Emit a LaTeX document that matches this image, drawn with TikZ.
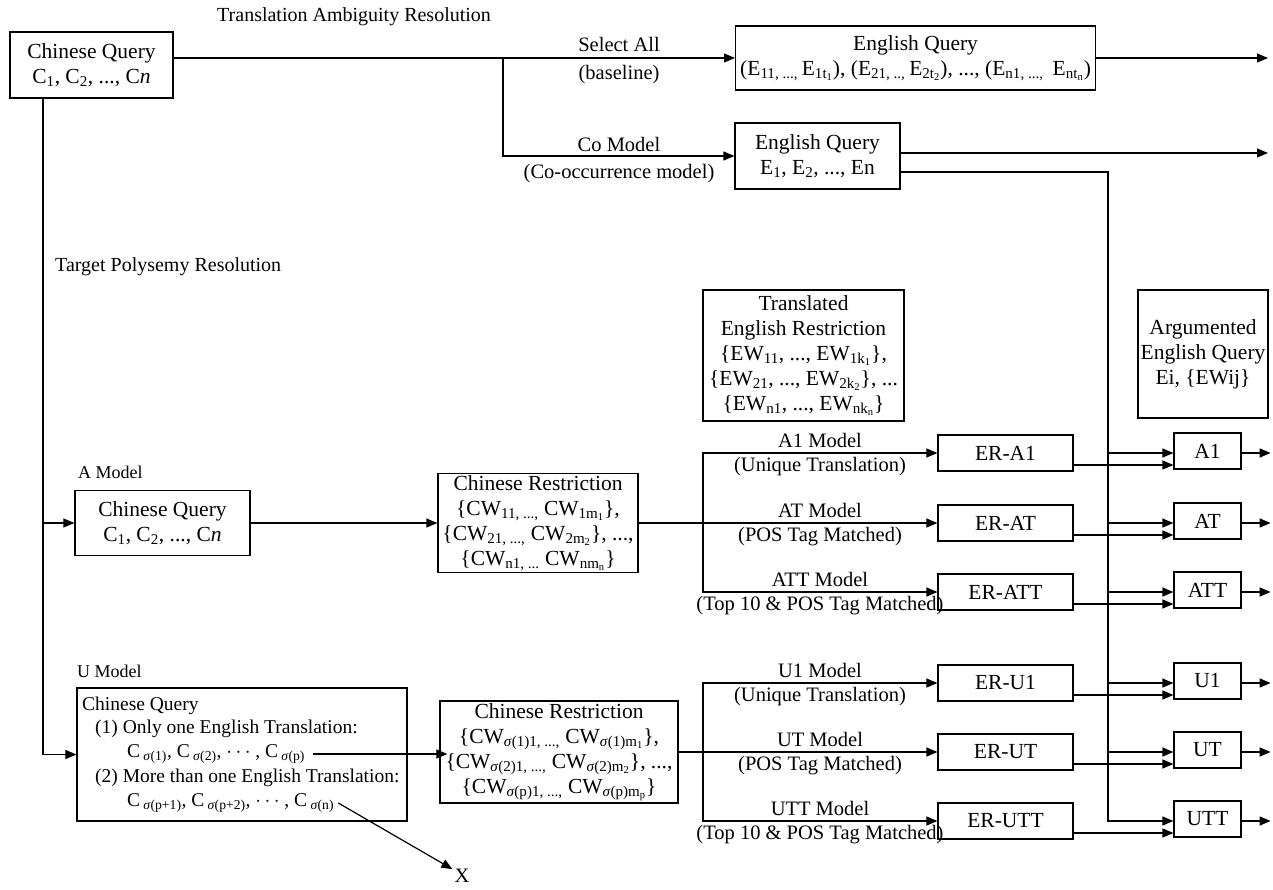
\documentclass[tikz,border=0pt]{standalone}
\usepackage{fontspec}
\setmainfont{Liberation Serif}
\usetikzlibrary{arrows.meta,calc}
\newcommand\fsb{\fontsize{21.5}{25}\selectfont}
\newcommand\fsl{\fontsize{20.5}{24}\selectfont}
\newcommand\fsu{\fontsize{19.5}{23}\selectfont}
\newcommand\fst{\fontsize{20}{24}\selectfont}
\newcommand\fsm{\fontsize{18}{22}\selectfont}
\newcommand\sbs[1]{\textsubscript{#1}}
\newcommand\sig{\textit{σ}}
\begin{document}
\begin{tikzpicture}[x=1pt,y=-1pt,
  ln/.style={line width=1.2pt},
  box/.style={draw,line width=1.2pt,align=center,inner sep=1pt,font=\fsb},
  lbl/.style={font=\fsl,inner sep=0pt},
  ulbl/.style={font=\fsu,inner sep=0pt,anchor=west},
  ttl/.style={font=\fst,inner sep=0pt,anchor=west},
  mdl/.style={font=\fsm,inner sep=0pt,anchor=west},
  arr/.style={line width=1.2pt,-{Triangle[length=11pt,width=9pt]}},
  erbox/.style={box,minimum width=135pt,minimum height=36pt},
  resbox/.style={box,minimum width=67pt,minimum height=36pt},
]
\useasboundingbox (0,0) rectangle (1273,890);

% titles
\node[ttl] (t1) at (217,17) {Translation Ambiguity Resolution};
\node[ttl] (t2) at (55,267) {Target Polysemy Resolution};

% top part
\node[box,minimum width=163pt,minimum height=66pt] (cq0) at (91.5,65) {Chinese Query\\C\sbs{1}, C\sbs{2}, ..., C\textit{n}};
\node[box,minimum width=360pt,minimum height=64pt,anchor=west] (eq1) at (735,58) {English Query\\(E\sbs{11, ..., }E\sbs{1t\sbs{1}}), (E\sbs{21, .., }E\sbs{2t\sbs{2}}), ..., (E\sbs{n1, ..., }\ E\sbs{nt\sbs{n}})};
\node[box,minimum width=165pt,minimum height=66pt] (eq2) at (817.5,156) {English Query\\E\sbs{1}, E\sbs{2}, ..., En};

\coordinate (j1) at (503,58);
\coordinate (e1) at (1268,58);
\coordinate (e2) at (1268,153);
\coordinate (lx) at (43,0);
\coordinate (vx) at (1108,0);
\coordinate (bx) at (703,0);

\draw[arr] (cq0.east |- eq1.west) -- (eq1.west);
\draw[arr] (j1) |- (eq2.west);
\draw[arr] (eq1.east) -- (e1);
\draw[arr] ([yshift=3pt]eq2.east) -- (e2);

\node[lbl] (sa) at (619,44) {Select All};
\node[lbl] (bl) at (619,75) {(baseline)};
\node[lbl] (cm) at (619,144) {Co Model};
\node[lbl] (cmo) at (619,174) {(Co-occurrence model)};

% restriction / argumented boxes
\node[box,minimum width=201pt,minimum height=131pt] (ter) at (803.5,355.5) {Translated\\English Restriction\\\{EW\sbs{11}, ..., EW\sbs{1k\sbs{1}}\},\\\{EW\sbs{21}, ..., EW\sbs{2k\sbs{2}}\}, ...\\\{EW\sbs{n1}, ..., EW\sbs{nk\sbs{n}}\}};
\node[box,minimum width=130pt,minimum height=128pt] (aeq) at (1203,354) {Argumented\\English Query\\Ei, \{EWij\}};

% A model
\node[mdl] (am) at (78,472) {A Model};
\node[box,minimum width=175pt,minimum height=65pt] (abox) at (162.5,523) {Chinese Query\\C\sbs{1}, C\sbs{2}, ..., C\textit{n}};
\node[box,minimum width=200pt,minimum height=99pt] (cra) at (538,523) {Chinese Restriction\\\{CW\sbs{11, ...,}\ CW\sbs{1m\sbs{1}}\},\\\{CW\sbs{21, ...,}\ CW\sbs{2m\sbs{2}}\}, ...,\\\{CW\sbs{n1, ...}\ CW\sbs{nm\sbs{n}}\}};

\node[erbox] (era1) at (1005.5,453) {ER-A1};
\node[erbox] (erat) at (1005.5,523) {ER-AT};
\node[erbox] (eratt) at (1005.5,592) {ER-ATT};
\node[resbox] (ra1) at (1207.5,451) {A1};
\node[resbox] (rat) at (1207.5,521) {AT};
\node[resbox] (ratt) at (1207.5,590) {ATT};

\node[lbl] at (820,440) {A1 Model};
\node[lbl] at (820,467) {(Unique Translation)};
\node[lbl] at (820,510) {AT Model};
\node[lbl] at (820,537) {(POS Tag Matched)};
\node[lbl] at (820,579) {ATT Model};
\node[lbl] at (820,606) {(Top 10 \& POS Tag Matched)};

% U model
\node[mdl] (um) at (77,671) {U Model};
\node[draw,ln,minimum width=330pt,minimum height=133pt,inner sep=0pt] (ubox) at (242,754.5) {};
\node[ulbl] (uq) at (82,706) {Chinese Query};
\node[ulbl] (u1) at (95,729) {(1) Only one English Translation:};
\node[ulbl] (cp) at (127,754) {C\,\sbs{\sig(1)}, C\,\sbs{\sig(2)}, $\cdots$ , C\,\sbs{\sig(p)}};
\node[ulbl] (u2) at (95,778) {(2) More than one English Translation:};
\node[ulbl] (cn) at (127,803) {C\,\sbs{\sig(p+1)}, C\,\sbs{\sig(p+2)}, $\cdots$ , C\,\sbs{\sig(n)}};
\node[lbl] (xn) at (462,876) {X};

\node[box,minimum width=238pt,minimum height=102pt] (cru) at (559,752) {Chinese Restriction\\\{CW\sbs{\sig(1)1, ...,}\ CW\sbs{\sig(1)m\sbs{1}}\},\\\{CW\sbs{\sig(2)1, ...,}\ CW\sbs{\sig(2)m\sbs{2}}\}, ...,\\\{CW\sbs{\sig(p)1, ...,}\ CW\sbs{\sig(p)m\sbs{p}}\}};

\node[erbox] (eru1) at (1005.5,683) {ER-U1};
\node[erbox] (erut) at (1005.5,752) {ER-UT};
\node[erbox] (erutt) at (1005.5,821) {ER-UTT};
\node[resbox] (ru1) at (1207.5,681) {U1};
\node[resbox] (rut) at (1207.5,750) {UT};
\node[resbox] (rutt) at (1207.5,819) {UTT};

\node[lbl] at (820,670) {U1 Model};
\node[lbl] at (820,697) {(Unique Translation)};
\node[lbl] at (820,739) {UT Model};
\node[lbl] at (820,766) {(POS Tag Matched)};
\node[lbl] at (820,808) {UTT Model};
\node[lbl] at (820,835) {(Top 10 \& POS Tag Matched)};

% left main vertical
\draw[arr] (cq0.south -| lx) |- (ubox.west);
\draw[arr] (abox.west -| lx) -- (abox.west);
\draw[arr] (abox.east) -- (cra.west);
\draw[arr] ([xshift=8pt]cp.east) -- ([xshift=8pt]cp.east -| cru.west);
\draw[arr] ([xshift=4pt]cn.east) -- ([xshift=-2pt]xn.north west);

% branches
\draw[arr] (cra.east) -- (erat.west);
\draw[arr] (cra.east -| bx) |- (era1.west);
\draw[arr] (cra.east -| bx) |- (eratt.west);
\draw[arr] (cru.east) -- (erut.west);
\draw[arr] (cru.east -| bx) |- (eru1.west);
\draw[arr] (cru.east -| bx) |- (erutt.west);

% right vertical
\draw[arr] ([yshift=-16pt]eq2.east) -| ([yshift=-2pt]rutt.west -| vx) -- ([yshift=-2pt]rutt.west);
\foreach \r in {ra1,rat,ratt,ru1,rut}{
  \draw[arr] ([yshift=-2pt]\r.west -| vx) -- ([yshift=-2pt]\r.west);
}
\foreach \e/\r in {era1/ra1,erat/rat,eratt/ratt,eru1/ru1,erut/rut,erutt/rutt}{
  \draw[arr] ([yshift=-12pt]\e.east) -- ([yshift=-12pt]\e.east -| \r.west);
}
\foreach \r in {ra1,rat,ratt,ru1,rut,rutt}{
  \draw[arr] ([yshift=-2pt]\r.east) -- ([xshift=29pt,yshift=-2pt]\r.east);
}
\end{tikzpicture}
\end{document}
